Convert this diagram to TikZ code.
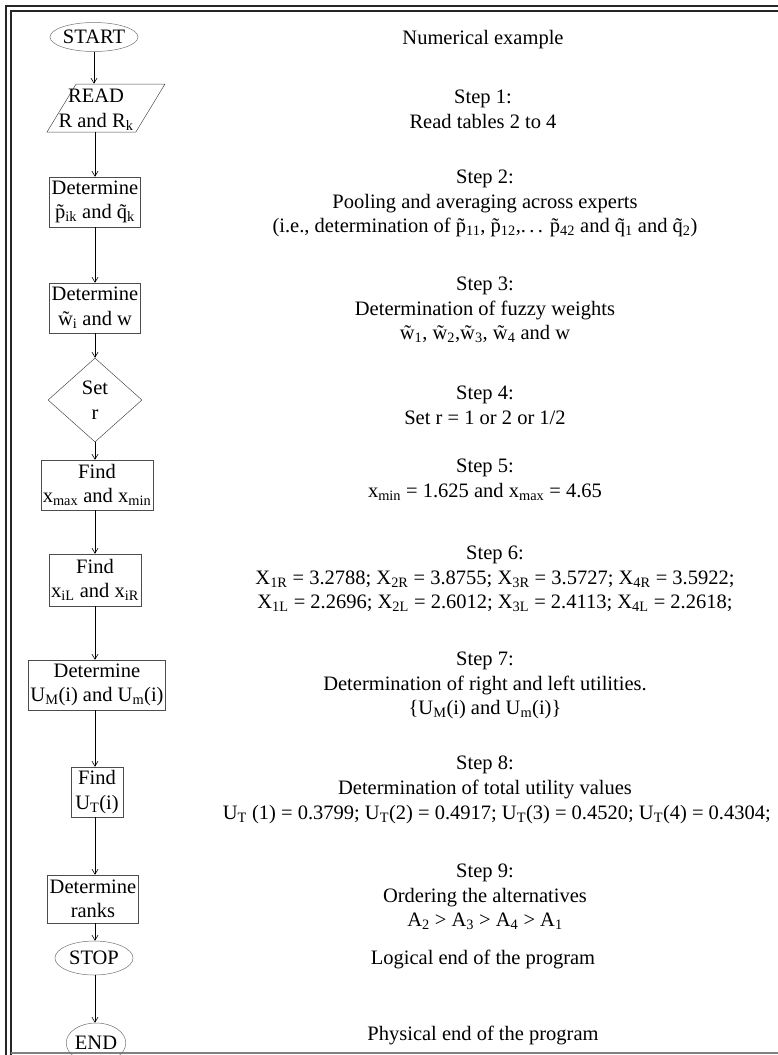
\documentclass[tikz,border=0pt]{standalone}
\usepackage{fontspec}
\setmainfont{Liberation Serif}
\usetikzlibrary{shapes.geometric,arrows.meta}
\newcommand{\sbs}[1]{\textsubscript{#1}}
\newcommand{\fz}[1]{\~{#1}}
\begin{document}
\begin{tikzpicture}[x=1pt, y=-1pt,
    font=\fontsize{20.5}{24.5}\selectfont,
    frameline/.style={line width=2pt, black!85},
    terminal/.style={ellipse, draw=black!55, line width=0.5pt, inner sep=0pt},
    io/.style={trapezium, trapezium stretches=true, trapezium left angle=64, trapezium right angle=116,
        draw=black!70, line width=0.5pt, inner sep=2pt},
    process/.style={rectangle, draw=black!70, line width=0.5pt, align=center,
        inner xsep=2pt, inner ysep=0pt, minimum height=50},
    decision/.style={diamond, draw=black!70, line width=0.5pt, align=center, inner sep=0pt,
        shape aspect=1.12, minimum width=94, minimum height=84},
    steptext/.style={align=center, inner sep=0pt, anchor=north},
    flow/.style={-{Straight Barb[length=5pt, width=6pt]}, line width=0.6pt}
]
    \useasboundingbox (0,0) rectangle (778,1055);
    \clip (0,0) rectangle (778,1055);

    % cadre double
    \draw[frameline] (5.5,1060) -- (5.5,6) -- (800,6);
    \draw[frameline] (10.5,1060) -- (10.5,11) -- (800,11);
    \draw[frameline, black!50] (10.5,1053) -- (800,1053);

    % organigramme
    \node[terminal, minimum width=88, minimum height=29] (start) at (94,37) {START};
    \node[io, minimum width=118, minimum height=48] (read) at (106,108) {};
    \node[align=center, inner sep=0pt] (readtxt) at (96,110) {READ\\R and R\sbs{k}};
    \node[process] (detp) at (95,202) {Determine\\\fz{p}\sbs{ik} and \fz{q}\sbs{k}};
    \node[process] (detw) at (95,308) {Determine\\\fz{w}\sbs{i} and w};
    \node[decision] (setr) at (95,400) {Set\\r};
    \node[process] (findx) at (97,485) {Find\\x\sbs{max} and x\sbs{min}};
    \node[process, minimum height=52] (findxi) at (95,580) {Find\\x\sbs{iL} and x\sbs{iR}};
    \node[process] (detu) at (97,685) {Determine\\U\sbs{M}(i) and U\sbs{m}(i)};
    \node[process, minimum width=52] (findut) at (97,792) {Find\\U\sbs{T}(i)};
    \node[process, minimum height=48] (ranks) at (93,899) {Determine\\ranks};
    \node[terminal, minimum width=78, minimum height=34] (stop) at (94,958) {STOP};
    \node[terminal, minimum width=55, minimum height=40] (end) at (96,1043) {END};

    % fleches
    \draw[flow] (start) -- (start |- read.north);
    \draw[flow] (detp.north |- read.south) -- (detp.north);
    \draw[flow] (detp) -- (detw);
    \draw[flow] (detw) -- (setr);
    \draw[flow] (setr) -- (setr |- findx.north);
    \draw[flow] (setr |- findx.south) -- (findxi);
    \draw[flow] (findxi) -- (findxi |- detu.north);
    \draw[flow] (findxi |- detu.south) -- (findxi |- findut.north);
    \draw[flow] (findxi |- findut.south) -- (findxi |- ranks.north);
    \draw[flow] (findxi |- ranks.south) -- (findxi |- stop.north);
    \draw[flow] (findxi |- stop.south) -- (findxi |- end.north);

    % exemple numerique
    \node[steptext] (title) at (483,30) {Numerical example};
    \node[steptext] (step1) at (483,90) {Step 1:\\Read tables 2 to 4};
    \node[steptext] (step2) at (485,170) {Step 2:\\Pooling and averaging across experts\\(i.e., determination of \fz{p}\sbs{11}, \fz{p}\sbs{12},.\,.\,. \fz{p}\sbs{42} and \fz{q}\sbs{1} and \fz{q}\sbs{2})};
    \node[steptext] (step3) at (485,277) {Step 3:\\Determination of fuzzy weights\\\fz{w}\sbs{1}, \fz{w}\sbs{2},\fz{w}\sbs{3}, \fz{w}\sbs{4} and w};
    \node[steptext] (step4) at (485,386) {Step 4:\\Set r = 1 or 2 or 1/2};
    \node[steptext] (step5) at (485,459) {Step 5:\\x\sbs{min} = 1.625 and x\sbs{max} = 4.65};
    \node[steptext] (step6) at (495,546) {Step 6:\\X\sbs{1R} = 3.2788; X\sbs{2R} = 3.8755; X\sbs{3R} = 3.5727; X\sbs{4R} = 3.5922;\\X\sbs{1L} = 2.2696; X\sbs{2L} = 2.6012; X\sbs{3L} = 2.4113; X\sbs{4L} = 2.2618;};
    \node[steptext] (step7) at (485,652) {Step 7:\\Determination of right and left utilities.\\\{U\sbs{M}(i) and U\sbs{m}(i)\}};
    \node[steptext] (step8) at (485,756) {Step 8:\\Determination of total utility values};
    \node[inner sep=0pt, anchor=north east] (step8val) at (771,805) {U\sbs{T} (1) = 0.3799; U\sbs{T}(2) = 0.4917; U\sbs{T}(3) = 0.4520; U\sbs{T}(4) = 0.4304;};
    \node[steptext] (step9) at (485,864) {Step 9:\\Ordering the alternatives\\A\sbs{2} > A\sbs{3} > A\sbs{4} > A\sbs{1}};
    \node[steptext] (logend) at (483,950) {Logical end of the program};
    \node[steptext] (physend) at (483,1026) {Physical end of the program};
\end{tikzpicture}
\end{document}
